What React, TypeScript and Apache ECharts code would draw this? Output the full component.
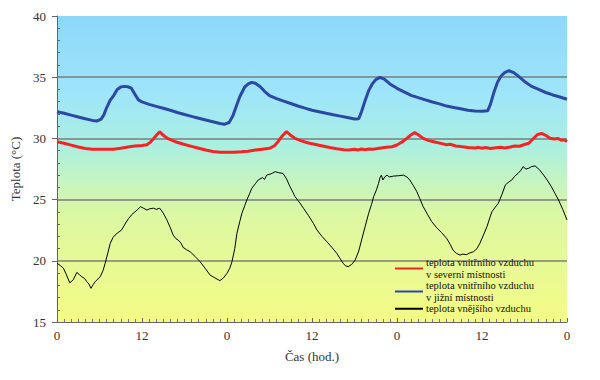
import React, { useEffect, useRef } from "react";
import * as echarts from "echarts";

// hour (0..72) and temperature pairs
const southRoom: [number, number][] = [
  [0, 32.18], [1, 32.05], [2, 31.9], [3, 31.75], [4, 31.6], [5, 31.47], [5.6, 31.42], [6.2, 31.55],
  [6.6, 31.9], [7, 32.5], [7.5, 33.1], [8, 33.5], [8.5, 34.0], [9, 34.2], [9.5, 34.25], [10, 34.22],
  [10.5, 34.1], [11, 33.6], [11.5, 33.15], [12, 32.98], [13, 32.78], [14, 32.62], [15, 32.46],
  [16, 32.3], [17, 32.12], [18, 31.95], [19, 31.8], [20, 31.65], [21, 31.5], [22, 31.36],
  [23, 31.22], [23.6, 31.15], [24.3, 31.3], [24.8, 31.8], [25.3, 32.6], [25.8, 33.4], [26.5, 34.2],
  [27, 34.45], [27.5, 34.58], [28, 34.5], [28.7, 34.22], [29.3, 33.85], [30, 33.5], [31, 33.25],
  [32, 33.05], [33, 32.85], [34, 32.65], [35, 32.47], [36, 32.3], [37, 32.18], [38, 32.05],
  [39, 31.93], [40, 31.82], [41, 31.7], [42, 31.58], [42.6, 31.6], [43, 32.2], [43.5, 33.1],
  [44, 33.9], [44.5, 34.45], [45, 34.8], [45.6, 34.99], [46.2, 34.85], [47, 34.45], [48, 34.09],
  [49, 33.8], [50, 33.52], [51, 33.33], [52, 33.15], [53, 32.97], [54, 32.82], [55, 32.64],
  [56, 32.53], [57, 32.42], [58, 32.3], [59, 32.23], [60, 32.22], [60.8, 32.25], [61.2, 32.8],
  [61.7, 33.8], [62.2, 34.6], [62.7, 35.1], [63.2, 35.38], [63.8, 35.53], [64.4, 35.4],
  [65, 35.15], [66, 34.65], [67, 34.25], [68, 34.0], [69, 33.75], [70, 33.55], [71, 33.38], [72, 33.2],
];

const northRoom: [number, number][] = [
  [0, 29.73], [1, 29.6], [2, 29.45], [3, 29.3], [4, 29.18], [5, 29.12], [6, 29.12], [7, 29.12],
  [8, 29.12], [9, 29.2], [10, 29.3], [11, 29.38], [12, 29.42], [12.7, 29.48], [13.2, 29.7],
  [13.6, 29.95], [14.1, 30.3], [14.5, 30.55], [15, 30.25], [15.6, 30.0], [16.7, 29.73],
  [18, 29.5], [19, 29.35], [20, 29.2], [21, 29.05], [22, 28.93], [23, 28.86], [24, 28.86],
  [25, 28.86], [26, 28.9], [27, 28.95], [28, 29.05], [29, 29.12], [30, 29.19], [30.7, 29.4],
  [31.2, 29.73], [31.8, 30.2], [32.4, 30.55], [33, 30.25], [33.6, 30.0], [34.5, 29.8],
  [35.5, 29.62], [36.5, 29.5], [37.5, 29.38], [38.5, 29.25], [39.5, 29.15], [40.5, 29.07],
  [41.2, 29.05], [42, 29.12], [42.5, 29.05], [43, 29.14], [43.5, 29.08], [44, 29.13],
  [44.6, 29.12], [45.5, 29.2], [46.5, 29.28], [47.3, 29.32], [48, 29.46], [48.7, 29.7],
  [49.4, 30.0], [50, 30.3], [50.5, 30.47], [51, 30.3], [51.7, 30.0], [52.5, 29.82],
  [53.5, 29.68], [54.5, 29.55], [55, 29.48], [55.5, 29.52], [56.3, 29.38], [57, 29.33],
  [58, 29.26], [59, 29.22], [59.5, 29.27], [60, 29.2], [60.5, 29.25], [61.2, 29.18],
  [62, 29.24], [62.6, 29.28], [63.2, 29.22], [64, 29.3], [64.6, 29.38], [65.3, 29.36],
  [66, 29.5], [66.6, 29.6], [67.2, 29.95], [67.8, 30.3], [68.4, 30.41], [69, 30.25],
  [69.6, 30.02], [70.2, 29.95], [70.7, 30.0], [71.2, 29.85], [71.6, 29.88], [72, 29.75],
];

const outdoor: [number, number][] = [
  [0, 19.8], [0.5, 19.6], [0.9, 19.4], [1.3, 18.9], [1.8, 18.2], [2.3, 18.45], [2.8, 19.05],
  [3.2, 18.85], [3.5, 18.7], [3.9, 18.55], [4.2, 18.3], [4.5, 18.1], [4.8, 17.75], [5.1, 18.05],
  [5.4, 18.3], [6.1, 18.7], [6.5, 19.2], [6.8, 19.8], [7.2, 20.7], [7.5, 21.4], [7.9, 21.9],
  [8.2, 22.1], [8.6, 22.3], [9.1, 22.5], [9.6, 23.0], [10.1, 23.45], [10.6, 23.8], [11, 24.0],
  [11.4, 24.2], [11.8, 24.42], [12.2, 24.3], [12.7, 24.15], [13.1, 24.25], [13.6, 24.3],
  [14.0, 24.2], [14.5, 24.3], [15.0, 23.9], [15.5, 23.35], [16.0, 22.7], [16.4, 22.1],
  [16.8, 21.8], [17.1, 21.7], [17.5, 21.45], [17.8, 21.1], [18.3, 20.9], [18.8, 20.74],
  [19.5, 20.35], [20.2, 19.93], [20.9, 19.4], [21.6, 18.84], [22.3, 18.6], [23, 18.38],
  [23.5, 18.6], [24, 18.98], [24.4, 19.4], [24.7, 19.93], [25.1, 21.0], [25.4, 22.24],
  [25.8, 23.2], [26.1, 23.88], [26.5, 24.5], [26.8, 24.97], [27.2, 25.5], [27.5, 25.92],
  [28, 26.3], [28.4, 26.6], [29, 26.8], [29.3, 26.65], [29.6, 27.0], [30.2, 27.1],
  [30.8, 27.28], [31.3, 27.2], [31.9, 27.14], [32.4, 26.7], [32.9, 26.05], [33.3, 25.6],
  [33.6, 25.24], [34.2, 24.8], [34.8, 24.29], [35.5, 23.7], [36.2, 23.06], [36.7, 22.52],
  [37.4, 22.0], [38.1, 21.56], [38.8, 21.1], [39.5, 20.61], [40.0, 20.15], [40.4, 19.8],
  [40.7, 19.6], [41.1, 19.52], [41.6, 19.7], [42.1, 20.07], [42.6, 20.8], [43, 21.7],
  [43.5, 22.8], [44, 23.88], [44.4, 24.6], [44.7, 25.24], [45.1, 25.8], [45.4, 26.33],
  [45.6, 26.8], [45.8, 27.0], [46.0, 26.6], [46.3, 26.87], [46.6, 27.0], [46.9, 26.85],
  [47.5, 26.92], [48.2, 26.95], [48.9, 27.0], [49.4, 26.85], [49.8, 26.6], [50.3, 26.15],
  [50.8, 25.65], [51.2, 25.1], [51.7, 24.42], [52.3, 23.8], [52.9, 23.2], [53.6, 22.7],
  [54.3, 22.3], [55, 21.84], [55.5, 21.35], [55.9, 20.88], [56.4, 20.6], [56.9, 20.47],
  [57.3, 20.55], [57.8, 20.5], [58.3, 20.65], [58.8, 20.74], [59.3, 21.0], [59.7, 21.43],
  [60.2, 22.1], [60.7, 22.79], [61.1, 23.5], [61.4, 24.01], [61.9, 24.4], [62.3, 24.7],
  [62.8, 25.4], [63.3, 26.2], [63.7, 26.4], [64.2, 26.6], [64.6, 26.9], [65.1, 27.15],
  [65.5, 27.4], [65.8, 27.69], [66.2, 27.5], [66.6, 27.56], [67, 27.7], [67.5, 27.75],
  [68.1, 27.45], [68.7, 27.0], [69.2, 26.6], [69.8, 26.05], [70.3, 25.5], [70.8, 24.97],
  [71.4, 24.2], [72, 23.33],
];

const seriesNames = [
  "teplota vnitřního vzduchu\nv severní místnosti",
  "teplota vnitřního vzduchu\nv jižní místnosti",
  "teplota vnějšího vzduchu",
];
const xTickHours = [0, 12, 24, 36, 48, 60, 72];

const FONT = "'Liberation Serif', 'Times New Roman', serif";

export default function App() {
  const ref = useRef<HTMLDivElement>(null);
  useEffect(() => {
    if (!ref.current) return;
    const chart = echarts.init(ref.current, null, { renderer: "svg" });
    const bg = new echarts.graphic.LinearGradient(0, 0, 0, 1, [
      { offset: 0, color: "#8dd7f9" },
      { offset: 0.25, color: "#9ee5fb" },
      { offset: 0.42, color: "#a9efe2" },
      { offset: 0.55, color: "#c7f5bd" },
      { offset: 0.65, color: "#dcf8a2" },
      { offset: 1, color: "#f4fb84" },
    ]);
    chart.setOption({
      animation: false,
      textStyle: { fontFamily: FONT },
      grid: {
        left: 57,
        top: 16,
        right: 33,
        bottom: 58,
        show: true,
        backgroundColor: bg,
        borderWidth: 0,
      },
      legend: {
        orient: "vertical",
        left: 389,
        top: 252,
        itemGap: 0,
        itemWidth: 28,
        itemHeight: 11,
        data: seriesNames,
        itemStyle: { opacity: 0 },
        textStyle: { fontFamily: FONT, fontSize: 10.5, color: "#111", lineHeight: 11.5, padding: [0, 0, 0, -2] },
      },
      xAxis: {
        type: "value",
        min: 0,
        max: 72,
        interval: 12,
        axisLine: { lineStyle: { color: "#666", width: 1 } },
        axisTick: { inside: true, length: 4, lineStyle: { color: "#666" } },
        minorTick: { show: true, splitNumber: 12, length: 3, lineStyle: { color: "#777" } },
        splitLine: { show: false },
        axisLabel: {
          fontFamily: FONT,
          fontSize: 13,
          color: "#333",
          margin: 7,
          formatter: (v: number) => (xTickHours.includes(v) ? String(v % 24) : ""),
        },
        name: "Čas (hod.)",
        nameLocation: "middle",
        nameGap: 28,
        nameTextStyle: { fontFamily: FONT, fontSize: 13, color: "#333" },
      },
      yAxis: [
        {
          type: "value",
          min: 15,
          max: 40,
          interval: 5,
          axisLine: { show: true, lineStyle: { color: "#666", width: 1 } },
          axisTick: { show: true, length: 5, lineStyle: { color: "#666" } },
          splitLine: {
            show: true,
            showMinLine: false,
            showMaxLine: false,
            lineStyle: { color: "#7d7d7d", width: 1.5 },
          },
          axisLabel: { fontFamily: FONT, fontSize: 13, color: "#333", margin: 11 },
          name: "Teplota (°C)",
          nameLocation: "middle",
          nameGap: 30,
          nameTextStyle: { fontFamily: FONT, fontSize: 13, color: "#333" },
        },
        {
          type: "value",
          position: "left",
          min: 15,
          max: 40,
          interval: 5,
          axisLine: { show: false },
          axisTick: { show: false, inside: true },
          minorTick: { show: true, splitNumber: 5, length: 3, lineStyle: { color: "#666" } },
          splitLine: { show: false },
          axisLabel: { show: false },
        },
      ],
      series: [
        {
          name: seriesNames[0],
          type: "line",
          data: northRoom,
          showSymbol: false,
          symbol: "none",
          lineStyle: { color: "#f52424", width: 3 },
          itemStyle: { color: "#f52424" },
        },
        {
          name: seriesNames[1],
          type: "line",
          data: southRoom,
          showSymbol: false,
          symbol: "none",
          lineStyle: { color: "#2d48a3", width: 3 },
          itemStyle: { color: "#2d48a3" },
        },
        {
          name: seriesNames[2],
          type: "line",
          data: outdoor,
          showSymbol: false,
          symbol: "none",
          lineStyle: { color: "#000", width: 1 },
          itemStyle: { color: "#000" },
        },
      ],
    });
    return () => chart.dispose();
  }, []);
  return <div ref={ref} style={{ width: 600, height: 380, position: "absolute", left: 0, top: 0 }} />;
}
